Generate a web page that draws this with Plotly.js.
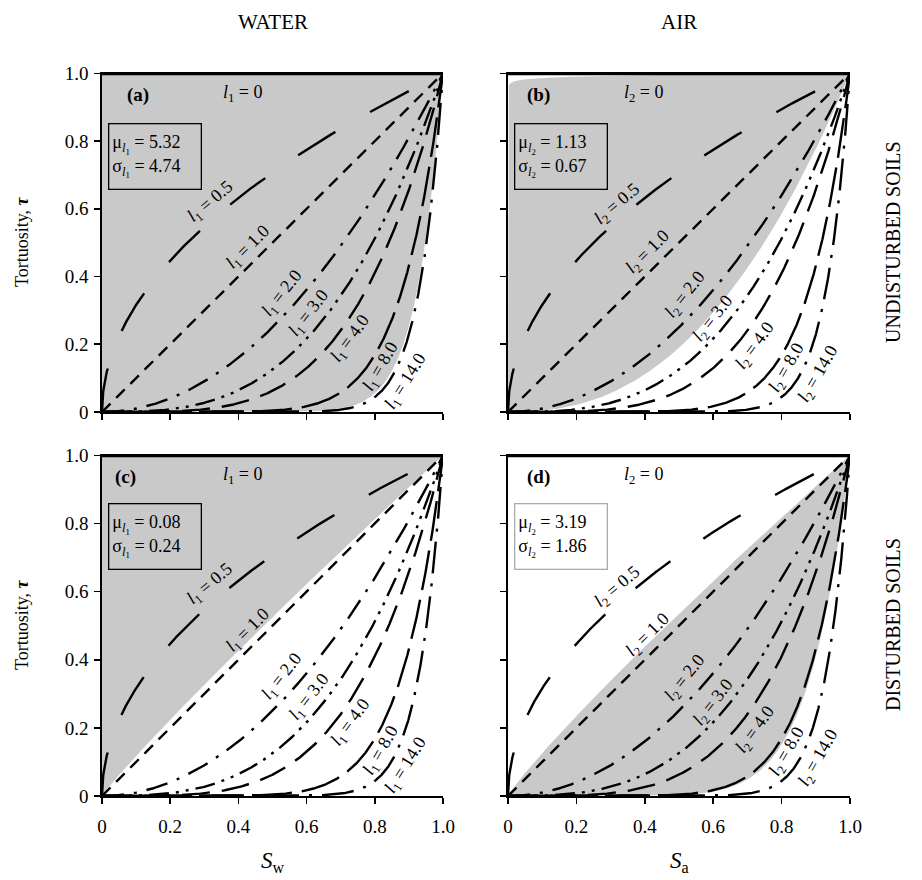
<!DOCTYPE html>
<html>
<head>
<meta charset="utf-8">
<script src="https://cdn.plot.ly/plotly-3.0.1.min.js"></script>
<style>body{margin:0;background:#fff}#plot{width:922px;height:880px}</style>
</head>
<body>
<div id="plot"></div>
<script>
// ---- data ----
const exponents = [0, 0.5, 1, 2, 3, 4, 8, 14];
const exponentLabels = ['0', '0.5', '1.0', '2.0', '3.0', '4.0', '8.0', '14.0'];
const panelNames = ['(a)', '(b)', '(c)', '(d)'];
const phaseIndex = ['1', '2', '1', '2'];
const muValues = ['5.32', '1.13', '0.08', '3.19'];
const sigmaValues = ['4.74', '0.67', '0.24', '1.86'];
const bandUpperExp = [0, 0.006, 0, 0.9];
const bandLowerExp = [13, 2.4, 0.93, 8.5];
const tickValues = [0, 0.2, 0.4, 0.6, 0.8, 1.0];
const tickLabels = ['0', '0.2', '0.4', '0.6', '0.8', '1.0'];
const columnTitles = ['WATER', 'AIR'];
const rowTitles = ['UNDISTURBED SOILS', 'DISTURBED SOILS'];
const xTitles = ['<i>S</i><sub>w</sub>', '<i>S</i><sub>a</sub>'];
const yTitle = 'Tortuosity, <b><i>τ</i></b>';

// ---- styles / layout helpers ----
const dashes = ['solid', '44px,40px', '12px,8px', '22px,10px,3px,10px',
  '20px,7px,3px,7px,3px,7px', '28px,12px', '40px,10px', '32px,10px,3px,10px'];
// label positions (data coords) per column: [S, tau, angle]
const labelPos = [
  [[0.413, 0.94, 0], [0.317, 0.62, -40], [0.43, 0.485, -45], [0.53, 0.35, -52],
   [0.608, 0.29, -52], [0.73, 0.217, -54], [0.82, 0.133, -60], [0.892, 0.09, -58]],
  [[0.395, 0.94, 0], [0.32, 0.613, -40], [0.41, 0.47, -45], [0.518, 0.345, -52],
   [0.602, 0.275, -52], [0.725, 0.195, -54], [0.818, 0.13, -60], [0.908, 0.11, -60]]
];
const FONT = '"Liberation Serif", "Times New Roman", serif';
const W = 922, H = 880;
const xDom = [[102 / W, 443 / W], [508 / W, 850 / W]];
const yDom = [[1 - 412 / H, 1 - 72 / H], [1 - 796 / H, 1 - 454 / H]];
const grayFill = '#c9c9c9';

const N = 1200;
const S = [];
for (let i = 0; i <= N; i++) S.push(i / N);
const curve = (l) => S.map(s => Math.pow(s, l));

const traces = [];
const layout = {
  width: W, height: H, margin: {l: 0, r: 0, t: 0, b: 0},
  paper_bgcolor: '#fff', plot_bgcolor: 'rgba(0,0,0,0)',
  showlegend: false, font: {family: FONT, color: '#000', size: 16},
  annotations: []
};

for (let p = 0; p < 4; p++) {
  const col = p % 2, row = Math.floor(p / 2);
  const ax = p === 0 ? '' : String(p + 1);
  const xa = 'x' + ax, ya = 'y' + ax;
  // band
  traces.push({x: S, y: curve(bandUpperExp[p]), xaxis: xa, yaxis: ya, mode: 'lines',
    line: {width: 0, color: grayFill}, hoverinfo: 'skip'});
  traces.push({x: S, y: curve(bandLowerExp[p]), xaxis: xa, yaxis: ya, mode: 'lines',
    fill: 'tonexty', fillcolor: grayFill, line: {width: 0, color: grayFill}, hoverinfo: 'skip'});
  // curves
  exponents.forEach((l, k) => {
    traces.push({x: S, y: curve(l), xaxis: xa, yaxis: ya, mode: 'lines',
      line: {color: '#000', width: k === 0 ? 4 : 2.4, dash: dashes[k]}, hoverinfo: 'skip'});
    const lp = labelPos[col][k];
    layout.annotations.push({xref: xa, yref: ya, x: lp[0], y: lp[1], showarrow: false,
      xanchor: 'center', yanchor: 'middle',
      textangle: lp[2], text: '<i>l</i><sub>' + phaseIndex[p] + '</sub> = ' + exponentLabels[k],
      font: {family: FONT, size: 18, color: '#000'}});
  });
  // axes
  const axCommon = {range: [0, 1], showgrid: false, zeroline: false, showline: true,
    linecolor: '#000', linewidth: 1.6, ticks: 'outside', ticklen: 6, tickwidth: 1.6,
    tickcolor: '#000', tickmode: 'array', tickvals: tickValues, ticktext: tickLabels,
    tickfont: {family: FONT, size: 19, color: '#000'}, fixedrange: true};
  layout['xaxis' + ax] = Object.assign({}, axCommon, {domain: xDom[col], anchor: ya,
    showticklabels: row === 1, ticklabelstandoff: 7});
  layout['yaxis' + ax] = Object.assign({}, axCommon, {domain: yDom[row], anchor: xa,
    range: [0, 1.004], showticklabels: col === 0, ticklabelstandoff: 2});
  // panel label
  layout.annotations.push({xref: xa, yref: ya, x: col === 0 ? (row === 0 ? 0.106 : 0.07) : 0.09,
    y: 0.935, showarrow: false, xanchor: 'center', yanchor: 'middle',
    text: '<b>' + panelNames[p] + '</b>',
    font: {family: FONT, size: 19, color: '#000'}});
  // stats box
  const sub = '<sub><i>l</i><sub>' + phaseIndex[p] + '</sub></sub>';
  layout.annotations.push({xref: xa, yref: ya, x: 0.018, y: row === 0 ? 0.852 : 0.86,
    xanchor: 'left', yanchor: 'top', showarrow: false, align: 'left',
    text: 'μ' + sub + ' = ' + muValues[p] + '<br>σ' + sub + ' = ' + sigmaValues[p],
    bordercolor: p === 3 ? '#aaa' : '#000', borderwidth: 1.3, borderpad: 3,
    width: 85, height: 58,
    font: {family: FONT, size: 18, color: '#000'}});
}

// column titles, axis titles, row titles
columnTitles.forEach((t, c) => {
  const xc = (xDom[c][0] + xDom[c][1]) / 2;
  layout.annotations.push({xref: 'paper', yref: 'paper', x: xc, y: 1 - 22 / H,
    xanchor: 'center', yanchor: 'middle', showarrow: false, text: t,
    font: {family: FONT, size: 21, color: '#000'}});
  layout.annotations.push({xref: 'paper', yref: 'paper', x: xc, y: 1 - 862 / H,
    xanchor: 'center', yanchor: 'middle', showarrow: false, text: xTitles[c],
    font: {family: FONT, size: 23, color: '#000'}});
});
rowTitles.forEach((t, r) => {
  const yc = (yDom[r][0] + yDom[r][1]) / 2;
  layout.annotations.push({xref: 'paper', yref: 'paper', x: 893 / W, y: yc,
    xanchor: 'center', yanchor: 'middle', showarrow: false, textangle: -90, text: t,
    font: {family: FONT, size: 20, color: '#000'}});
  layout.annotations.push({xref: 'paper', yref: 'paper', x: 22 / W, y: yc,
    xanchor: 'center', yanchor: 'middle', showarrow: false, textangle: -90, text: yTitle,
    font: {family: FONT, size: 18, color: '#000'}});
});

Plotly.newPlot('plot', traces, layout, {staticPlot: true});
</script>
</body>
</html>
